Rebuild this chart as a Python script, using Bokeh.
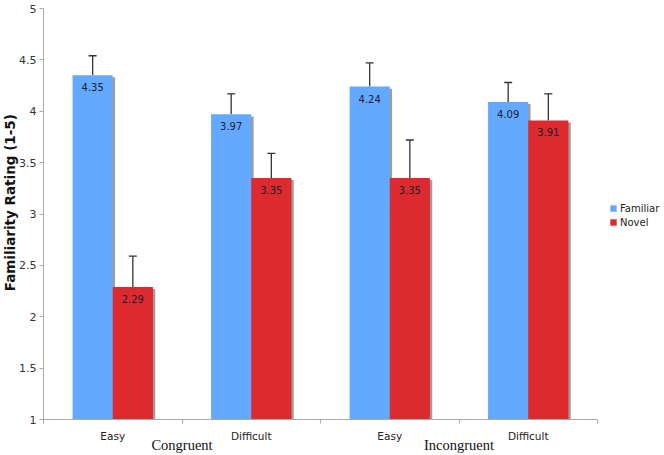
import numpy as np
from bokeh.plotting import figure
from bokeh.models import (ColumnDataSource, Range1d, FixedTicker, Whisker, TeeHead,
                          Legend, LegendItem, Label)
from bokeh.transform import dodge
from bokeh.core.properties import value
from bokeh.embed import file_html
from bokeh.resources import INLINE

# ---- data ----
groups = ["Congruent", "Congruent", "Incongruent", "Incongruent"]
difficulty = ["Easy", "Difficult", "Easy", "Difficult"]
familiar = [4.35, 3.97, 4.24, 4.09]
novel = [2.29, 3.35, 3.35, 3.91]
familiar_err = [0.19, 0.20, 0.23, 0.19]
novel_err = [0.30, 0.24, 0.37, 0.26]
series_names = ["Familiar", "Novel"]
y_ticks = [1, 1.5, 2, 2.5, 3, 3.5, 4, 4.5, 5]
y_tick_labels = ["1", "1.5", "2", "2.5", "3", "3.5", "4", "4.5", "5"]
y_label = "Familiarity Rating (1-5)"

# ---- styling / layout ----
BLUE = "#62A9FF"
RED = "#DD2A2F"
SHADOW = "#a09c9c"
AXIS = "#aaaaaa"
FONT = "DejaVu Sans"
SERIF = "Liberation Serif"
W, H = 664, 455            # canvas size
PX_X = 138.5               # pixels per category
PX_Y = 102.75              # pixels per rating unit
AX_LEFT = 43               # canvas x of the value axis
AX_BOTTOM = 419            # canvas y of the category axis (value 1)

n = len(difficulty)
centers = np.arange(n) + 0.5
bar_w = 0.29
y0, y1 = y_ticks[0], y_ticks[-1]

x_start = -AX_LEFT / PX_X
x_end = (W - AX_LEFT) / PX_X
y_start = y0 - (H - AX_BOTTOM) / PX_Y
y_end = y0 + AX_BOTTOM / PX_Y

p = figure(width=W, height=H, output_backend="svg", toolbar_location=None,
           x_range=Range1d(x_start, x_end), y_range=Range1d(y_start, y_end),
           min_border=0, min_border_left=0, min_border_right=0,
           min_border_top=0, min_border_bottom=0)
p.outline_line_color = None
p.grid.grid_line_color = None
p.background_fill_color = "white"
p.border_fill_color = "white"

def make_src(vals, errs, offset):
    vals = np.array(vals, dtype=float)
    errs = np.array(errs, dtype=float)
    return ColumnDataSource(dict(
        x=centers + offset,
        top=vals,
        shadow_top=vals - 0.02,
        err_top=vals + errs,
        label=["%.2f" % v for v in vals],
    ))

src_f = make_src(familiar, familiar_err, -bar_w / 2)
src_n = make_src(novel, novel_err, bar_w / 2)

renderers = []
for src, color in ((src_f, BLUE), (src_n, RED)):
    p.vbar(x=dodge("x", 0.017), top="shadow_top", bottom=y0, width=bar_w,
           source=src, fill_color=SHADOW, line_color=None)
    r = p.vbar(x="x", top="top", bottom=y0, width=bar_w, source=src,
               fill_color=color, line_color=None)
    renderers.append(r)
    w = Whisker(source=src, base="x", upper="err_top", lower="top", dimension="height",
                line_color="#333333", line_width=1.3,
                upper_head=TeeHead(size=8, line_color="#333333", line_width=1.3),
                lower_head=None)
    p.add_layout(w)
    p.text(x="x", y="top", text="label", source=src, text_align="center",
           text_baseline="top", y_offset=8, text_font=value(FONT),
           text_font_size="10px", text_color="#1c1c2c")

# ---- x axis (sub-categories) ----
xa = p.xaxis[0]
xa.fixed_location = y0
xa.ticker = FixedTicker(ticks=[float(c) for c in centers],
                        minor_ticks=[float(v) for v in np.arange(n + 1)])
xa.major_label_overrides = {float(c): d for c, d in zip(centers, difficulty)}
xa.bounds = (0, n)
xa.axis_line_color = AXIS
xa.major_tick_line_color = None
xa.major_tick_out = 0
xa.major_tick_in = 0
xa.minor_tick_line_color = AXIS
xa.minor_tick_out = 4
xa.minor_tick_in = 0
xa.major_label_standoff = 6
xa.major_label_text_font = FONT
xa.major_label_text_font_size = "10.5px"
xa.major_label_text_color = "#222222"

# ---- y axis ----
ya = p.yaxis[0]
ya.fixed_location = 0
ya.bounds = (y0, y1)
ya.ticker = FixedTicker(ticks=y_ticks)
ya.major_label_overrides = {float(t): l for t, l in zip(y_ticks, y_tick_labels)}
ya.axis_line_color = AXIS
ya.major_tick_line_color = AXIS
ya.major_tick_out = 4
ya.major_tick_in = 0
ya.minor_tick_line_color = None
ya.major_label_standoff = 3
ya.major_label_text_font = FONT
ya.major_label_text_font_size = "11px"
ya.major_label_text_color = "#333333"

p.add_layout(Label(x=(9 - AX_LEFT) / PX_X, y=3.11, text=y_label, angle=np.pi / 2,
                   text_align="center", text_baseline="middle",
                   text_font=FONT, text_font_size="13.5px", text_font_style="bold",
                   text_color="#111111"))

# ---- group labels ----
uniq_groups = list(dict.fromkeys(groups))
for g in uniq_groups:
    gx = float(np.mean([c for c, gg in zip(centers, groups) if gg == g]))
    p.add_layout(Label(x=gx, y=y0 - 25 / PX_Y, text=g, text_align="center",
                       text_baseline="middle", text_font=SERIF,
                       text_font_size="14.5px", text_color="#111111"))

legend = Legend(items=[LegendItem(label=series_names[0], renderers=[renderers[0]]),
                       LegendItem(label=series_names[1], renderers=[renderers[1]])],
                location=(609, 227), padding=0, margin=0, spacing=2,
                glyph_width=8, glyph_height=8, label_height=12, label_standoff=3,
                border_line_color=None, background_fill_alpha=0,
                label_text_font=FONT, label_text_font_size="10px",
                label_text_color="#222222")
p.add_layout(legend)

open("out.html", "w").write(file_html(p, INLINE))
